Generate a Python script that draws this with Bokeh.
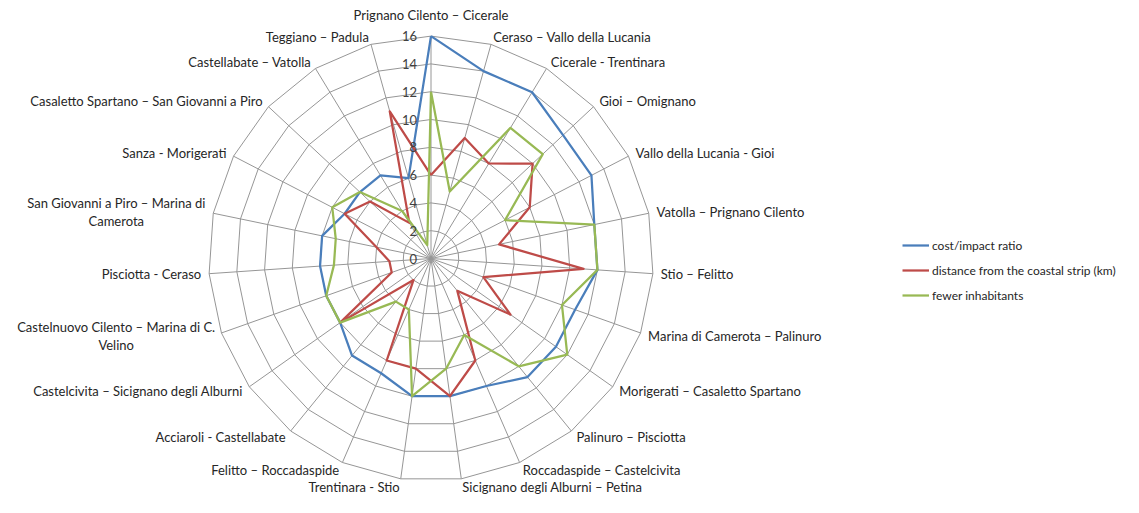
import numpy as np
from bokeh.plotting import figure
from bokeh.models import ColumnDataSource, Range1d, Legend, LegendItem
from bokeh.embed import file_html
from bokeh.resources import INLINE
from bokeh.core.properties import value

categories = [
    "Prignano Cilento – Cicerale",
    "Ceraso – Vallo della Lucania",
    "Cicerale - Trentinara",
    "Gioi – Omignano",
    "Vallo della Lucania - Gioi",
    "Vatolla – Prignano Cilento",
    "Stio – Felitto",
    "Marina di Camerota – Palinuro",
    "Morigerati – Casaletto Spartano",
    "Palinuro – Pisciotta",
    "Roccadaspide – Castelcivita",
    "Sicignano degli Alburni – Petina",
    "Trentinara - Stio",
    "Felitto – Roccadaspide",
    "Acciaroli - Castellabate",
    "Castelcivita – Sicignano degli Alburni",
    "Castelnuovo Cilento – Marina di C.\nVelino",
    "Pisciotta - Ceraso",
    "San Giovanni a Piro – Marina di\nCamerota",
    "Sanza - Morigerati",
    "Casaletto Spartano – San Giovanni a Piro",
    "Castellabate – Vatolla",
    "Teggiano – Padula",
]
cost_impact = [16, 14, 14, 13, 13, 12, 12, 11, 11, 11, 10, 10, 10, 9, 9, 8, 8, 8, 8, 7, 7, 7, 6]
distance_coast = [6, 9, 8, 10, 8, 5, 11, 4, 7, 3, 8, 10, 8, 8, 2, 8, 3, 3, 4, 7, 6, 3, 11]
fewer_inhabitants = [12, 5, 11, 11, 6, 12, 12, 10, 12, 10, 6, 8, 10, 4, 4, 8, 8, 7, 7, 8, 7, 4, 1]
series_names = ["cost/impact ratio", "distance from the coastal strip (km)", "fewer inhabitants"]
series_colors = ["#4A7EBB", "#BE4B48", "#98B954"]
tick_values = [0, 2, 4, 6, 8, 10, 12, 14, 16]

W, H = 1123, 497
S = 13.9             # pixels per value unit
CX, CY = 430.5, 258.0  # centre in figure pixels
RMAX = 16

p = figure(width=W, height=H, output_backend="svg", toolbar_location=None,
           x_axis_location=None, y_axis_location=None, min_border=0,
           x_range=Range1d(-CX / S, (W - CX) / S), y_range=Range1d(-(H - CY) / S, CY / S))
p.outline_line_color = None
p.xgrid.visible = False
p.ygrid.visible = False
p.background_fill_color = "white"

n = len(categories)
theta = np.arange(n) * 2 * np.pi / n
sx, cy_ = np.sin(theta), np.cos(theta)

grid_color = "#969696"
ring_xs, ring_ys = [], []
for r in tick_values[1:]:
    ring_xs.append(list(np.append(r * sx, r * sx[0])))
    ring_ys.append(list(np.append(r * cy_, r * cy_[0])))
p.multi_line(ring_xs, ring_ys, line_color=grid_color, line_width=1)
p.multi_line([[0, RMAX * a] for a in sx], [[0, RMAX * b] for b in cy_],
             line_color=grid_color, line_width=1)

renderers = []
for vals, col in zip([cost_impact, distance_coast, fewer_inhabitants], series_colors):
    v = np.array(vals, dtype=float)
    xs = np.append(v * sx, v[0] * sx[0])
    ys = np.append(v * cy_, v[0] * cy_[0])
    r = p.line(xs, ys, line_color=col, line_width=2.25, line_join="round")
    renderers.append(r)

p.text(x=[-14 / S] * len(tick_values), y=tick_values, text=[str(t) for t in tick_values],
       text_align="right", text_baseline="middle", text_font=value("Lato"),
       text_font_size="13px", text_color="#404040")

font = "Lato"
fs = 13
lab_r = RMAX + 8 / S
lx, ly, lt, la = [], [], [], []
mx, my, mt = [], [], []
for i, c in enumerate(categories):
    s, co = sx[i], cy_[i]
    if abs(s) < 0.05:
        lx.append(0); ly.append(RMAX + 21 / S); lt.append(c); la.append("center")
        continue
    x = lab_r * s
    y = lab_r * co
    align = "left" if s > 0 else "right"
    if "\n" in c:
        l1, l2 = c.split("\n")
        w1 = len(l1) * 5.75 / S
        xc = x - w1 / 2 if s < 0 else x + w1 / 2
        mx += [xc, xc]; my += [y + 9 / S, y - 9 / S]; mt += [l1, l2]
    else:
        lx.append(x); ly.append(y); lt.append(c); la.append(align)

p.text(x="x", y="y", text="t", text_align="a", source=ColumnDataSource(dict(x=lx, y=ly, t=lt, a=la)),
       text_baseline="middle", text_font=value(font), text_font_size=f"{fs}px", text_color="#262626")
p.text(x=mx, y=my, text=mt, text_align="center", text_baseline="middle",
       text_font=value(font), text_font_size=f"{fs}px", text_color="#262626")

legend = Legend(items=[LegendItem(label=nm, renderers=[r]) for nm, r in zip(series_names, renderers)],
                location=(902, 192), label_text_font=font, label_text_font_size="12px",
                label_text_color="#262626", glyph_width=27, glyph_height=20, label_height=20,
                spacing=5, padding=0, margin=0, label_standoff=3,
                border_line_color=None, background_fill_alpha=0)
p.add_layout(legend)

open("out.html", "w").write(file_html(p, INLINE))
